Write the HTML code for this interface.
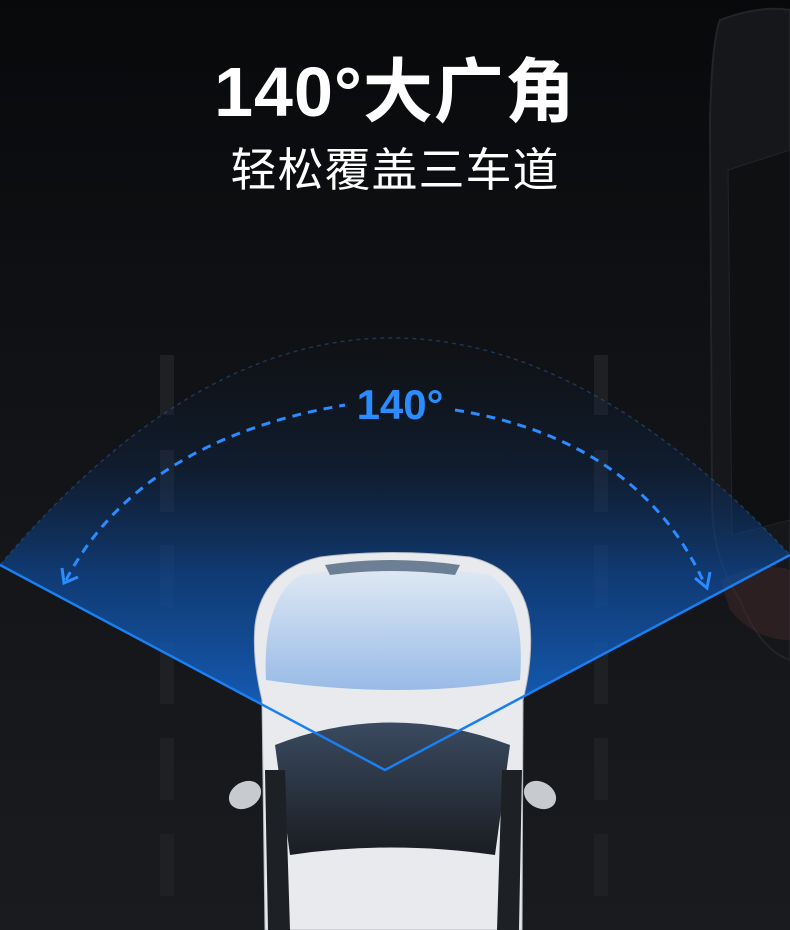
<!DOCTYPE html>
<html><head><meta charset="utf-8"><style>
html,body{margin:0;padding:0}
body{width:790px;height:930px;overflow:hidden;background:#0c0d10;position:relative;font-family:"Liberation Sans","Noto Sans CJK SC",sans-serif}
.t1{position:absolute;top:36px;left:0;width:790px;text-align:center;color:#fff;font-size:70px;font-weight:bold;letter-spacing:1px}
.t2{position:absolute;top:134px;left:0;width:790px;text-align:center;color:#fff;font-size:46px;letter-spacing:1px}
svg{position:absolute;left:0;top:0}
</style></head><body>
<svg width="790" height="930" viewBox="0 0 790 930">
<defs>
<linearGradient id="bg" x1="0" y1="0" x2="0" y2="1">
<stop offset="0" stop-color="#08090b"/><stop offset="0.55" stop-color="#131519"/><stop offset="1" stop-color="#191b1f"/></linearGradient>
<linearGradient id="fan" gradientUnits="userSpaceOnUse" x1="0" y1="340" x2="0" y2="700">
<stop offset="0" stop-color="#0b2a55" stop-opacity="0"/><stop offset="0.35" stop-color="#0c3570" stop-opacity="0.25"/><stop offset="0.65" stop-color="#0e4a9a" stop-opacity="0.7"/><stop offset="1" stop-color="#1560c0" stop-opacity="0.9"/></linearGradient>
<linearGradient id="hood" x1="0" y1="0" x2="0" y2="1">
<stop offset="0" stop-color="#dfe9f5"/><stop offset="1" stop-color="#8fb6e6"/></linearGradient>
<linearGradient id="ws" x1="0" y1="0" x2="0" y2="1">
<stop offset="0" stop-color="#3a4a60"/><stop offset="1" stop-color="#1a1d22"/></linearGradient>
</defs>
<rect width="790" height="930" fill="url(#bg)"/>
<g fill="#1e2024">
<rect x="160" y="355" width="14" height="60"/><rect x="160" y="450" width="14" height="62"/><rect x="160" y="545" width="14" height="62"/><rect x="160" y="642" width="14" height="62"/><rect x="160" y="738" width="14" height="62"/><rect x="160" y="834" width="14" height="62"/>
<rect x="594" y="355" width="14" height="60"/><rect x="594" y="450" width="14" height="62"/><rect x="594" y="545" width="14" height="62"/><rect x="594" y="642" width="14" height="62"/><rect x="594" y="738" width="14" height="62"/><rect x="594" y="834" width="14" height="62"/>
</g>
<path d="M720 20 Q760 5 790 10 L790 660 Q760 650 740 600 Q712 560 712 500 L710 120 Q712 40 720 20Z" fill="#15171a" stroke="#222428" stroke-width="2"/>
<path d="M728 170 L790 150 L790 520 L732 535Z" fill="#0f1012" stroke="#222428"/>
<path d="M720 580 Q760 560 790 570 L790 640 Q755 640 730 610Z" fill="#4a2a2c" opacity="0.45"/>
<path d="M0 565 Q380 116 790 555 L385 770Z" fill="url(#fan)"/>
<path d="M0 565 Q380 116 790 555" fill="none" stroke="#2a5a95" stroke-width="1.5" stroke-dasharray="4 4" opacity="0.5"/>
<path d="M265 930 L262 700 Q252 660 255 625 Q262 570 320 557 Q390 548 470 557 Q525 570 530 625 Q533 660 523 700 L522 930Z" fill="#e8eaed" stroke="#b7bbc1"/>
<path d="M266 680 Q262 600 300 575 Q390 560 490 575 Q526 600 520 680 Q400 700 266 680Z" fill="url(#hood)" opacity="0.9"/>
<path d="M325 565 Q390 555 460 565 L455 575 Q390 567 330 575Z" fill="#6d7f95"/>
<path d="M275 745 Q390 700 510 745 L495 855 Q390 840 290 855Z" fill="url(#ws)"/>
<path d="M265 770 L285 770 L290 930 L268 930Z" fill="#1d2025"/>
<path d="M522 770 L502 770 L497 930 L519 930Z" fill="#1d2025"/>
<ellipse cx="245" cy="795" rx="17" ry="13" fill="#c7cacf" transform="rotate(-30 245 795)"/>
<ellipse cx="540" cy="795" rx="17" ry="13" fill="#c7cacf" transform="rotate(30 540 795)"/>
<path d="M0 565 L385 770 L790 555" fill="none" stroke="#1a7ff0" stroke-width="2.5"/>
<path d="M66 580 Q140 440 345 405" fill="none" stroke="#2a8cff" stroke-width="3" stroke-dasharray="9 7"/>
<path d="M455 410 Q640 440 705 585" fill="none" stroke="#2a8cff" stroke-width="3" stroke-dasharray="9 7"/>
<path d="M62 568 L64 583 L78 577" fill="none" stroke="#2a8cff" stroke-width="3"/>
<path d="M695 578 L707 588 L710 572" fill="none" stroke="#2a8cff" stroke-width="3"/>
<text x="400" y="419" text-anchor="middle" fill="#2a8cff" font-size="42" font-weight="bold" font-family="Liberation Sans, sans-serif">140°</text>
</svg>
<div class="t1">140°大广角</div>
<div class="t2">轻松覆盖三车道</div>
</body></html>
